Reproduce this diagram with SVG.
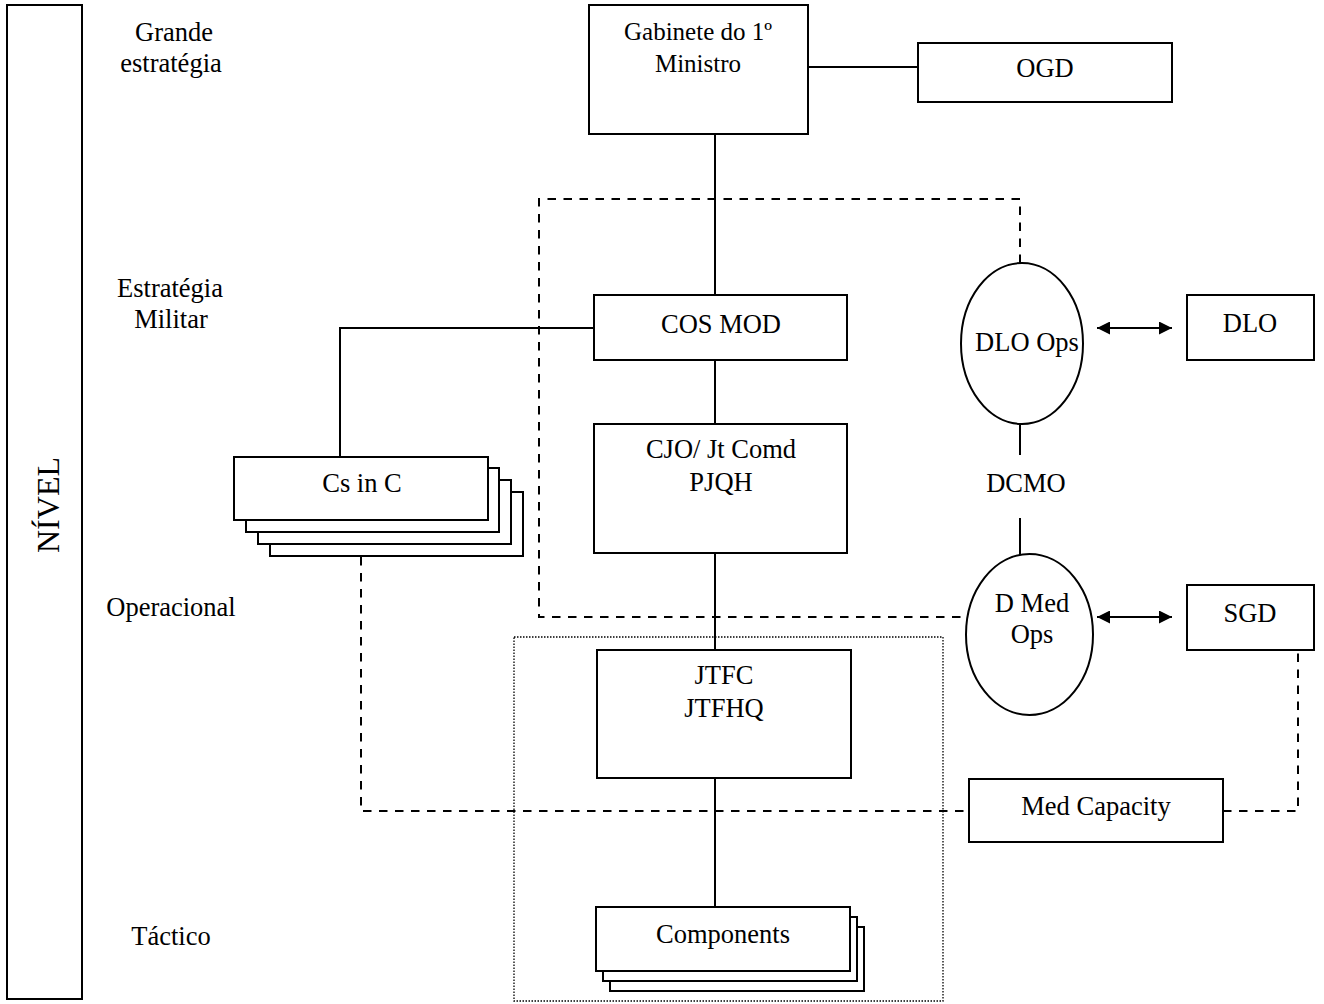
<svg xmlns="http://www.w3.org/2000/svg" width="1324" height="1004" viewBox="0 0 1324 1004">
  <style>
    text { font-family: "Liberation Serif", "Times New Roman", serif; font-size: 26.5px; fill: #000; text-anchor: middle; }
    .title { font-size: 25px; }
    .box { fill: #fff; stroke: #000; stroke-width: 2; }
    .solid { fill: none; stroke: #000; stroke-width: 2; }
    .dash { fill: none; stroke: #000; stroke-width: 2; stroke-dasharray: 8.5 7.5; }
    .dot { fill: none; stroke: #000; stroke-width: 1.3; stroke-dasharray: 1.5 1.5; }
  </style>
  <defs>
    <marker id="arrow" viewBox="0 0 10 10" refX="10" refY="5" markerWidth="7.5" markerHeight="6.5" markerUnits="strokeWidth" orient="auto-start-reverse">
      <path d="M0,0 L10,5 L0,10 z" fill="#000"/>
    </marker>
  </defs>
  <rect width="1324" height="1004" fill="#fff"/>

  <!-- level axis -->
  <g id="nivel">
    <rect class="box" x="7" y="5" width="75" height="994"/>
    <text transform="translate(59,505) rotate(-90)" style="font-size:32px">NÍVEL</text>
  </g>
  <g id="level-labels">
    <text x="174" y="41">Grande</text>
    <text x="171" y="72">estratégia</text>
    <text x="170" y="297">Estratégia</text>
    <text x="171" y="328">Militar</text>
    <text x="171" y="616">Operacional</text>
    <text x="171" y="945">Táctico</text>
  </g>

  <!-- connectors -->
  <g id="connectors">
    <line class="solid" x1="808" y1="67" x2="918" y2="67"/>
    <line class="solid" x1="715" y1="134" x2="715" y2="295"/>
    <polyline class="solid" points="594,328 340,328 340,457"/>
    <line class="solid" x1="715" y1="360" x2="715" y2="424"/>
    <line class="solid" x1="715" y1="553" x2="715" y2="650"/>
    <line class="solid" x1="715" y1="778" x2="715" y2="907"/>
    <line class="solid" x1="1020" y1="424" x2="1020" y2="455"/>
    <line class="solid" x1="1020" y1="518" x2="1020" y2="556"/>
    <line class="solid" x1="1097" y1="328" x2="1172" y2="328" marker-start="url(#arrow)" marker-end="url(#arrow)"/>
    <line class="solid" x1="1097" y1="617" x2="1172" y2="617" marker-start="url(#arrow)" marker-end="url(#arrow)"/>
    <polyline class="dash" points="1020,263 1020,199 539,199 539,617 967,617"/>
    <polyline class="dash" points="361,557 361,811 969,811"/>
    <polyline class="dash" points="1223,811 1298,811 1298,650"/>
    <rect class="dot" x="514" y="637" width="429" height="364"/>
  </g>

  <g id="gabinete">
    <rect class="box" x="589" y="5" width="219" height="129"/>
    <text class="title" x="698" y="40">Gabinete do 1º</text>
    <text class="title" x="698" y="72">Ministro</text>
  </g>
  <g id="ogd">
    <rect class="box" x="918" y="43" width="254" height="59"/>
    <text x="1045" y="77">OGD</text>
  </g>
  <g id="cos-mod">
    <rect class="box" x="594" y="295" width="253" height="65"/>
    <text x="721" y="333">COS MOD</text>
  </g>
  <g id="cs-in-c">
    <rect class="box" x="270" y="492" width="253" height="64"/>
    <rect class="box" x="258" y="480" width="253" height="64"/>
    <rect class="box" x="246" y="468" width="253" height="64"/>
    <rect class="box" x="234" y="457" width="254" height="63"/>
    <text x="362" y="492">Cs in C</text>
  </g>
  <g id="cjo">
    <rect class="box" x="594" y="424" width="253" height="129"/>
    <text x="721" y="458">CJO/ Jt Comd</text>
    <text x="721" y="491">PJQH</text>
  </g>
  <g id="jtfc">
    <rect class="box" x="597" y="650" width="254" height="128"/>
    <text x="724" y="684">JTFC</text>
    <text x="724" y="717">JTFHQ</text>
  </g>
  <g id="components">
    <rect class="box" x="610" y="927" width="254" height="64"/>
    <rect class="box" x="603" y="917" width="254" height="64"/>
    <rect class="box" x="596" y="907" width="254" height="64"/>
    <text x="723" y="943">Components</text>
  </g>
  <g id="dlo-ops">
    <ellipse class="box" cx="1022" cy="343.5" rx="61" ry="80.5"/>
    <text x="1027" y="351">DLO Ops</text>
  </g>
  <g id="dlo">
    <rect class="box" x="1187" y="295" width="127" height="65"/>
    <text x="1250" y="332">DLO</text>
  </g>
  <g id="dcmo">
    <text x="1026" y="492">DCMO</text>
  </g>
  <g id="d-med-ops">
    <ellipse class="box" cx="1029.5" cy="634.5" rx="63.5" ry="80.5"/>
    <text x="1032" y="612">D Med</text>
    <text x="1032" y="643">Ops</text>
  </g>
  <g id="sgd">
    <rect class="box" x="1187" y="585" width="127" height="65"/>
    <text x="1250" y="622">SGD</text>
  </g>
  <g id="med-capacity">
    <rect class="box" x="969" y="779" width="254" height="63"/>
    <text x="1096" y="815">Med Capacity</text>
  </g>
</svg>
